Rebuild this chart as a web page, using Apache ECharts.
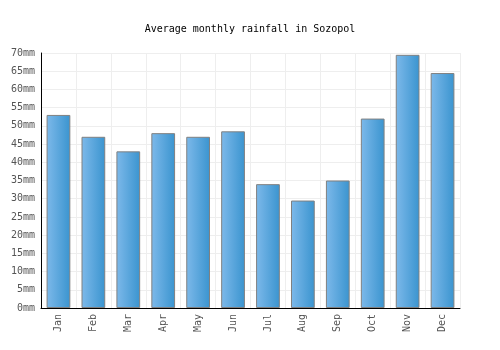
<!DOCTYPE html>
<html><head><meta charset="utf-8">
<script src="https://cdn.jsdelivr.net/npm/echarts@6/dist/echarts.min.js"></script>
<style>html,body{margin:0;padding:0;background:#fff}#c{width:500px;height:350px}</style>
</head><body><div id="c"></div>
<script>
const months = ['Jan','Feb','Mar','Apr','May','Jun','Jul','Aug','Sep','Oct','Nov','Dec'];
const rainfall = [53, 47, 43, 48, 47, 48.5, 34, 29.5, 35, 52, 69.5, 64.5];
const titleText = 'Average monthly rainfall in Sozopol';
const font = 'DejaVu Sans Mono';
const chart = echarts.init(document.getElementById('c'), null, {renderer:'canvas'});
chart.setOption({
  animation:false,
  backgroundColor:'#fff',
  title:{text:titleText,left:'center',top:19,textStyle:{fontFamily:font,fontSize:10,fontWeight:'normal',color:'#000'}},
  grid:{left:41,right:40,top:53,bottom:42},
  xAxis:{type:'category',data:months,
    axisLine:{lineStyle:{color:'#000',width:1}},
    axisTick:{show:false},
    axisLabel:{rotate:90,fontFamily:font,fontSize:10,color:'#555',margin:6},
    splitLine:{show:true,interval:0,lineStyle:{color:'#eeeeee'}},
    boundaryGap:true},
  yAxis:{type:'value',min:0,max:70,interval:5,
    axisLine:{show:true,lineStyle:{color:'#000',width:1}},
    axisTick:{show:false},
    axisLabel:{formatter:'{value}mm',fontFamily:font,fontSize:10,color:'#555',margin:6},
    splitLine:{lineStyle:{color:'#eeeeee'}}},
  series:[{type:'bar',data:rainfall,barWidth:'68%',
    itemStyle:{borderColor:'#808080',borderWidth:1,
      color:new echarts.graphic.LinearGradient(0,0,1,0,[{offset:0,color:'#7db9ea'},{offset:1,color:'#3a94cf'}])}}]
});
</script></body></html>
